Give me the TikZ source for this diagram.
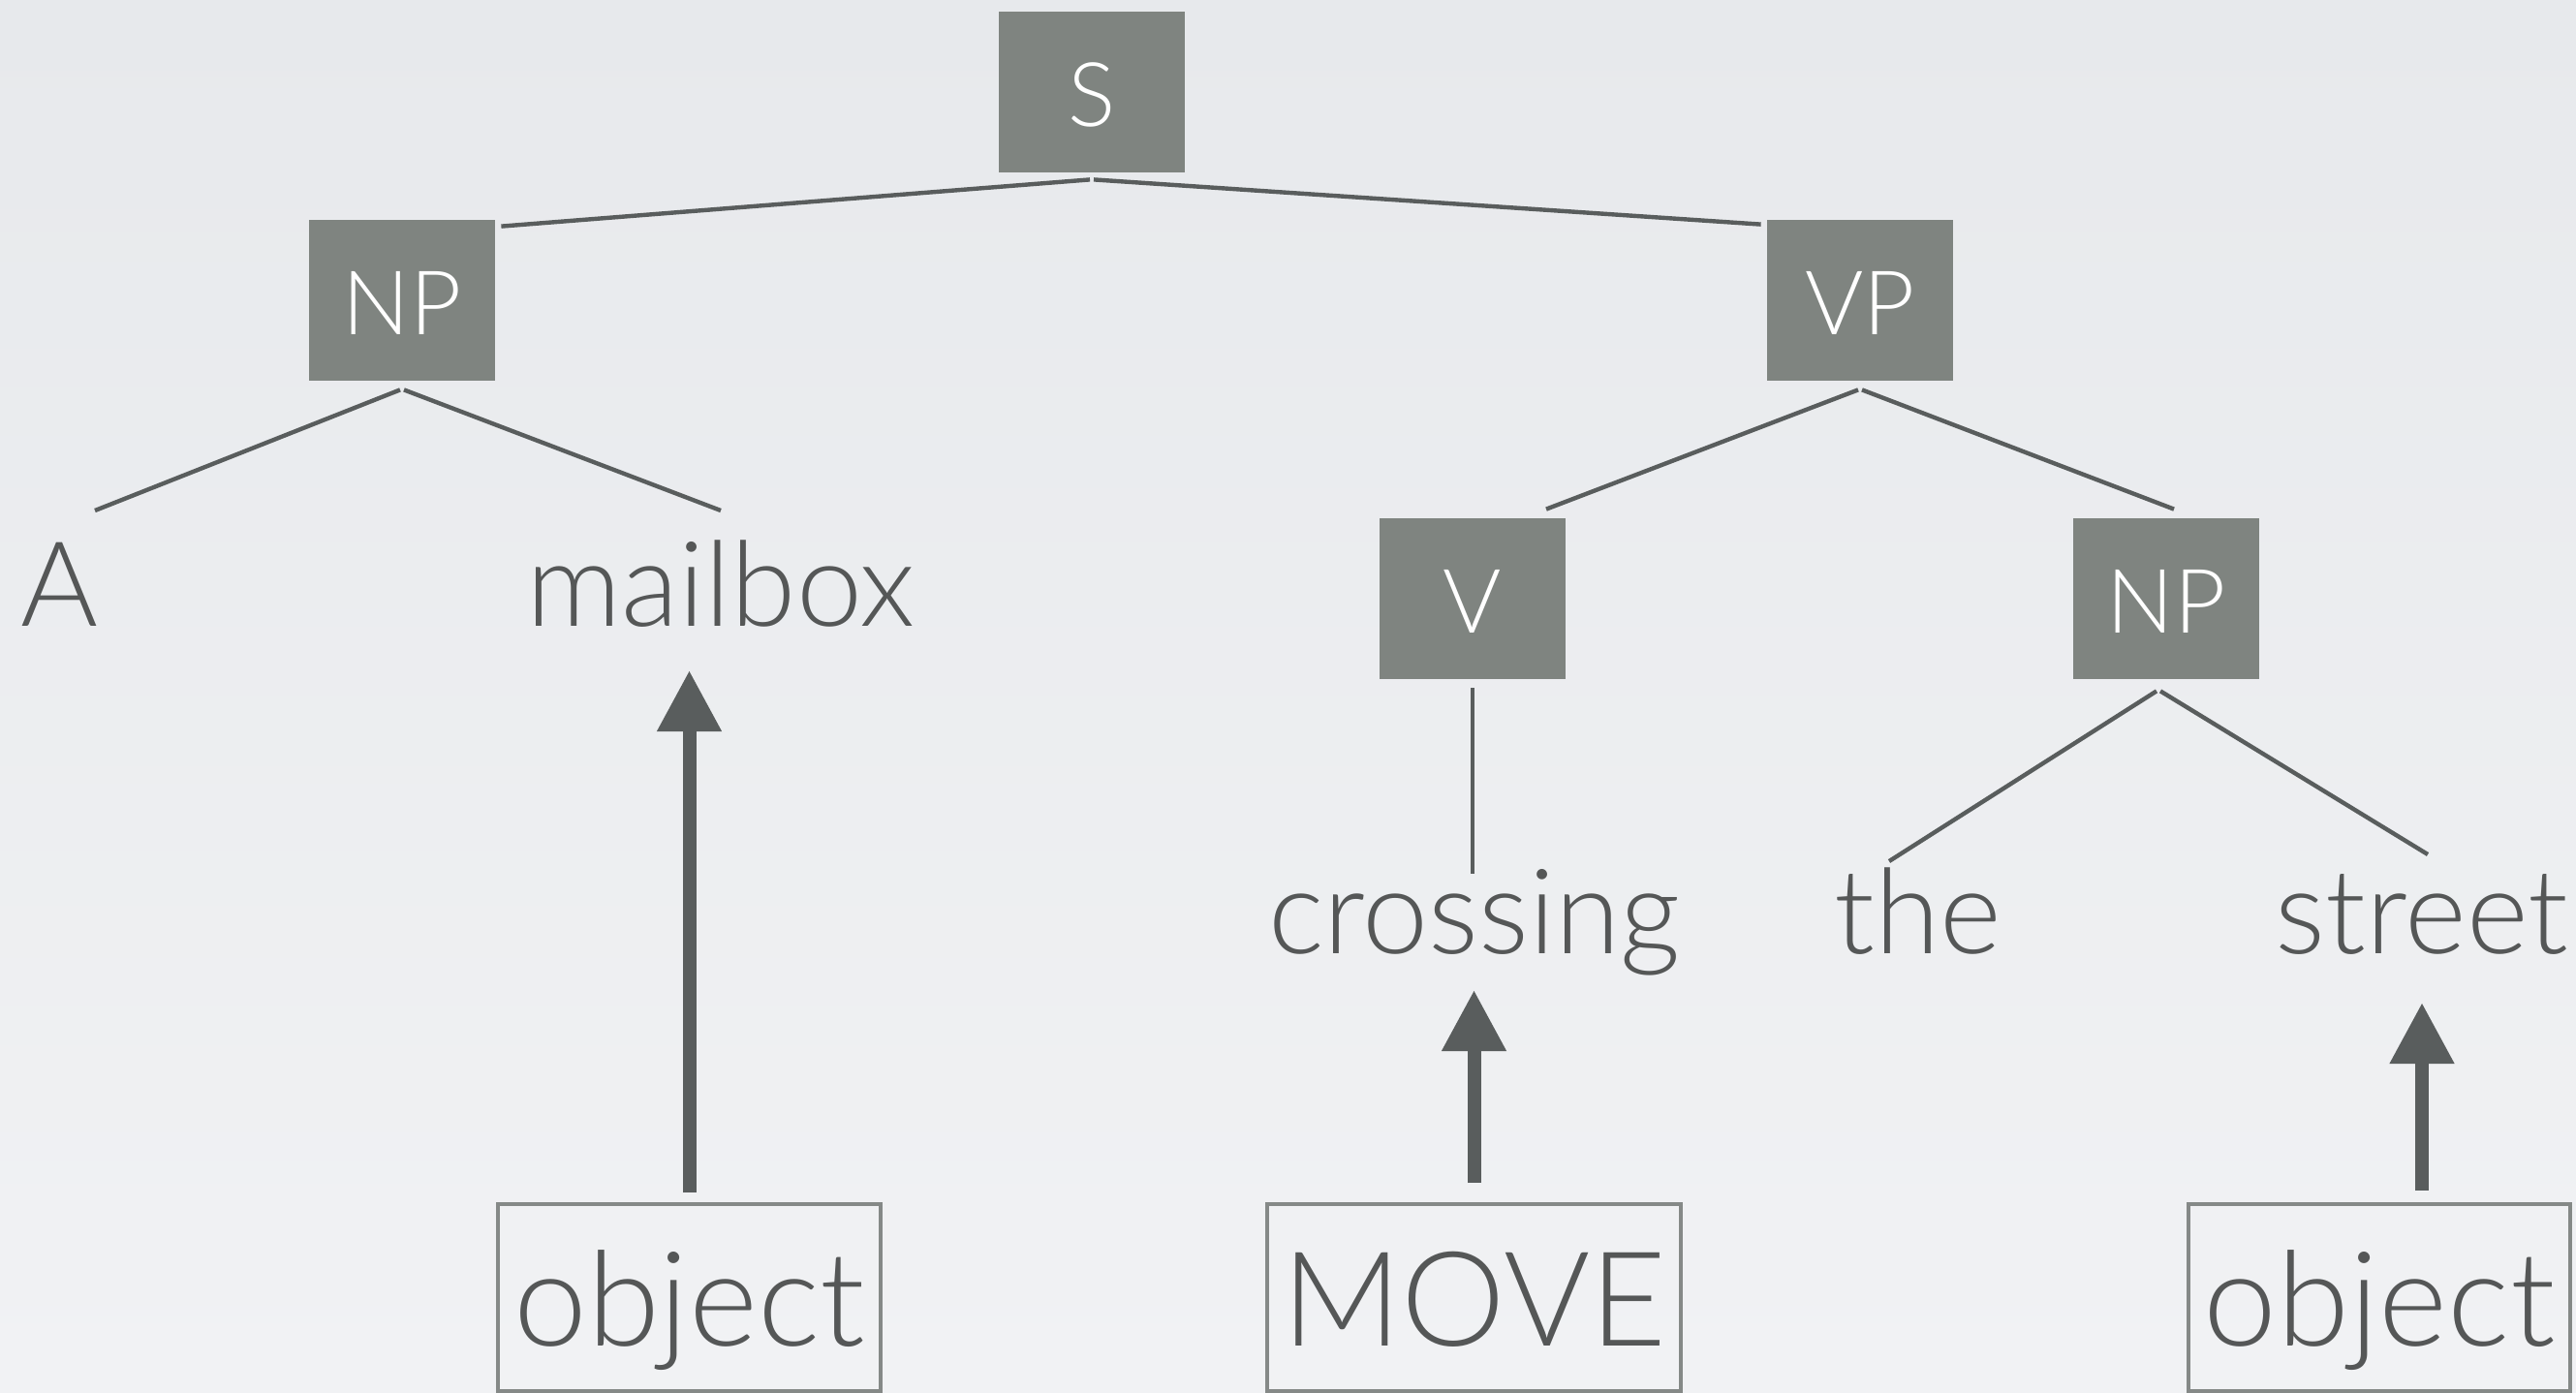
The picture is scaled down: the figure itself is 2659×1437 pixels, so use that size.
\documentclass[tikz,border=0pt]{standalone}
\usepackage{fontspec}
\setmainfont{Lato}[UprightFont=* Light]
\usetikzlibrary{arrows.meta,calc}
\definecolor{bgA}{HTML}{E7E9EC}
\definecolor{bgB}{HTML}{F1F2F4}
\definecolor{boxfill}{HTML}{7F8480}
\definecolor{linec}{HTML}{595D5D}
\definecolor{textc}{HTML}{555757}
\definecolor{framec}{HTML}{858987}
\begin{document}
\begin{tikzpicture}[x=0.5pt,y=-0.5pt,
  cat/.style={fill=boxfill,text=white,inner sep=0pt,minimum width=96pt,text height=59pt,text depth=24pt,font=\fontsize{46}{50}\selectfont},
  word/.style={text=textc,inner sep=0pt,anchor=base,font=\fontsize{61}{66}\selectfont},
  tag/.style={draw=framec,line width=2pt,text=textc,inner sep=0pt,text height=73pt,text depth=23.5pt,anchor=north west,font=\fontsize{68}{72}\selectfont},
  branch/.style={draw=linec,line width=2.2pt},
  up/.style={draw=linec,line width=7pt,-{Triangle[length=31.5pt,width=31.5pt]}}]
\fill[top color=bgA,bottom color=bgB] (0,0) rectangle (2659,1437);
\useasboundingbox (0,0) rectangle (2659,1437);
% category boxes
\node[cat] (S) at (1127,95) {S};
\node[cat] (NPa) at (415,310) {NP};
\node[cat] (VP) at (1920,310) {VP};
\node[cat] (V) at (1520,618) {V};
\node[cat] (NPb) at (2236,618) {NP};
% words
\node[word] (wA) at (61,646) {A};
\node[word] (mb) at (744,646) {mailbox};
\node[word] (cr) at (1522,984) {crossing};
\node[word] (th) at (1980,984) {the};
\node[word] (st) at (2500,984) {street};
% tags
\node[tag,minimum width=197.5pt] (ob1) at (512,1241) {object};
\node[tag,minimum width=213.5pt] (mv) at (1306,1241) {MOVE};
\node[tag,minimum width=197pt] (ob2) at (2257,1241) {object};
% branches
\draw[branch] ($(S.south)+(-2,7)$) -- ($(NPa.north east)+(6,7)$);
\draw[branch] ($(S.south)+(2,7)$) -- ($(VP.north west)+(-6,5)$);
\draw[branch] ($(NPa.south)+(-2,9)$) -- ($(wA.base)+(37,-119)$);
\draw[branch] ($(NPa.south)+(2,9)$) -- ($(mb.base)+(0,-119)$);
\draw[branch] ($(VP.south)+(-2,9)$) -- ($(V.north)+(76,-9)$);
\draw[branch] ($(VP.south)+(2,9)$) -- ($(NPb.north)+(8,-9)$);
\draw[branch] ($(V.south)+(0,9)$) -- ($(V.south |- cr.base)+(0,-82)$);
\draw[branch] ($(NPb.south)+(-10,12)$) -- ($(th.base)+(-30,-95)$);
\draw[branch] ($(NPb.south)+(-6,12)$) -- ($(st.base)+(6,-102)$);
% arrows
\draw[up] ($(ob1.north)+(0,-10)$) -- ($(ob1.north |- mb.base)+(0,46)$);
\draw[up] ($(mv.north)+(0,-20)$) -- ($(mv.north |- cr.base)+(0,38)$);
\draw[up] ($(st.base |- ob2.north)+(0,-12)$) -- ($(st.base)+(0,51)$);
\end{tikzpicture}
\end{document}
